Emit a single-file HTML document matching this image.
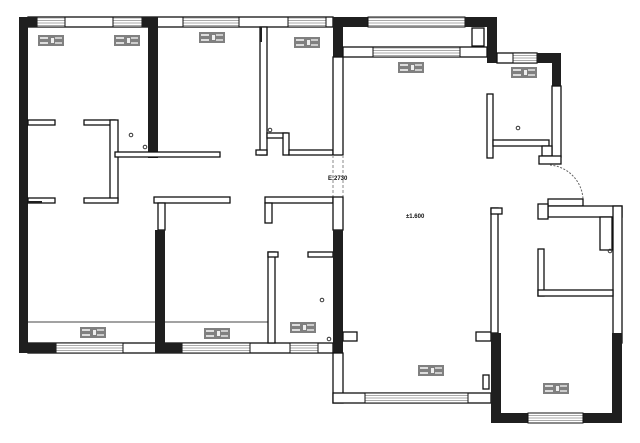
<!DOCTYPE html>
<html><head><meta charset="utf-8"><style>
html,body{margin:0;padding:0;background:#fff;width:640px;height:443px;overflow:hidden}
svg{display:block}
.w{fill:#fff;stroke:#111;stroke-width:1.3}
.b{fill:#1f1f1f}
.h{fill:url(#hp);stroke:#111;stroke-width:1}
.l{fill:#808080}
text{font-family:"Liberation Sans",sans-serif;font-weight:bold;fill:#111}
</style></head><body>
<svg width="640" height="443" viewBox="0 0 640 443" xmlns="http://www.w3.org/2000/svg">
<defs><pattern id="hp" width="4" height="2.5" patternUnits="userSpaceOnUse"><rect width="4" height="2.5" fill="#fff"/><rect y="0" width="4" height="1" fill="#aaa"/></pattern>
<g id="lab"><rect width="26" height="11" fill="#808080"/><rect x="2" y="2" width="8" height="2" fill="#ddd"/><rect x="2" y="7" width="8" height="2" fill="#ddd"/><rect x="13" y="3" width="3" height="5" fill="#eee"/><rect x="17" y="2" width="7" height="2" fill="#ccc"/><rect x="17" y="7" width="7" height="2" fill="#ccc"/></g></defs>

<rect class="w" x="28" y="17" width="305" height="10"/>
<rect class="h" x="37" y="17" width="28" height="10"/>
<rect class="h" x="113" y="17" width="29" height="10"/>
<rect class="h" x="183" y="17" width="56" height="10"/>
<rect class="h" x="288" y="17" width="38" height="10"/>
<rect class="b" x="19" y="17" width="18" height="10"/>
<rect class="b" x="19" y="17" width="9" height="336"/>
<rect class="b" x="142" y="17" width="16" height="10"/>
<rect class="b" x="148" y="17" width="10" height="141"/>

<rect class="w" x="28" y="120" width="27" height="5"/>
<rect class="w" x="84" y="120" width="31" height="5"/>
<rect class="w" x="110" y="120" width="8" height="80"/>
<rect class="w" x="115" y="152" width="105" height="5"/>
<rect class="w" x="28" y="198" width="27" height="5"/>
<rect class="w" x="84" y="198" width="34" height="5"/>
<rect class="b" x="28" y="201" width="14" height="2"/>

<rect class="w" x="260" y="27" width="7" height="128"/>
<rect class="w" x="256" y="150" width="11" height="5"/>
<rect class="w" x="267" y="133" width="20" height="5"/>
<rect class="w" x="283" y="133" width="6" height="22"/>
<rect class="w" x="289" y="150" width="44" height="5"/>
<rect class="b" x="260" y="27" width="2" height="15"/>

<rect class="b" x="333" y="17" width="35" height="10"/>
<rect class="b" x="333" y="17" width="10" height="40"/>
<rect class="w" x="333" y="57" width="10" height="98"/>
<rect class="h" x="368" y="17" width="97" height="10"/>
<rect class="b" x="465" y="17" width="32" height="10"/>
<rect class="b" x="487" y="17" width="10" height="46"/>
<rect class="w" x="343" y="47" width="144" height="10"/>
<rect class="h" x="373" y="47" width="87" height="10"/>
<rect class="w" x="472" y="28" width="12" height="18"/>

<line x1="333" y1="155" x2="333" y2="200" stroke="#888" stroke-dasharray="3,2"/>
<line x1="343" y1="155" x2="343" y2="200" stroke="#888" stroke-dasharray="3,2"/>
<text x="328" y="180" font-size="6">E:2730</text>

<rect class="w" x="497" y="53" width="40" height="10"/>
<rect class="h" x="513" y="53" width="24" height="10"/>
<rect class="b" x="537" y="53" width="24" height="10"/>
<rect class="b" x="552" y="53" width="9" height="33"/>
<rect class="w" x="552" y="86" width="9" height="71"/>
<rect class="w" x="487" y="94" width="6" height="64"/>
<rect class="w" x="493" y="140" width="56" height="6"/>
<rect class="w" x="542" y="146" width="10" height="10"/>
<rect class="w" x="539" y="156" width="22" height="8"/>
<path d="M550 165 A36 36 0 0 1 583 199" fill="none" stroke="#666" stroke-dasharray="2,1.5"/>

<rect class="w" x="154" y="197" width="76" height="6"/>
<rect class="w" x="158" y="203" width="7" height="27"/>
<rect class="w" x="265" y="197" width="68" height="6"/>
<rect class="w" x="265" y="203" width="7" height="20"/>
<rect class="w" x="333" y="197" width="10" height="33"/>

<rect class="w" x="28" y="343" width="305" height="10"/>
<rect class="h" x="56" y="343" width="67" height="10"/>
<rect class="h" x="182" y="343" width="68" height="10"/>
<rect class="h" x="290" y="343" width="28" height="10"/>
<rect class="b" x="19" y="343" width="37" height="10"/>
<rect class="b" x="155" y="343" width="27" height="10"/>
<rect class="b" x="155" y="230" width="10" height="123"/>
<line x1="28" y1="322" x2="155" y2="322" stroke="#444"/>
<line x1="165" y1="322" x2="270" y2="322" stroke="#444"/>
<rect class="w" x="268" y="252" width="7" height="91"/>
<rect class="w" x="268" y="252" width="10" height="5"/>
<rect class="w" x="308" y="252" width="25" height="5"/>
<rect class="b" x="333" y="230" width="10" height="123"/>
<rect class="w" x="343" y="332" width="14" height="9"/>

<rect class="w" x="333" y="353" width="10" height="50"/>
<rect class="w" x="333" y="393" width="158" height="10"/>
<rect class="h" x="365" y="393" width="103" height="10"/>
<rect class="w" x="476" y="332" width="15" height="9"/>
<rect class="w" x="483" y="375" width="6" height="14"/>

<rect class="w" x="548" y="199" width="35" height="7"/>
<rect class="w" x="548" y="206" width="74" height="11"/>
<rect class="w" x="538" y="204" width="10" height="15"/>
<rect class="w" x="613" y="206" width="9" height="137"/>
<rect class="w" x="491" y="208" width="7" height="125"/>
<rect class="w" x="491" y="208" width="11" height="6"/>
<rect class="w" x="538" y="249" width="6" height="47"/>
<rect class="w" x="538" y="290" width="75" height="6"/>
<rect class="w" x="600" y="217" width="12" height="33"/>
<rect class="b" x="612" y="333" width="10" height="90"/>
<rect class="b" x="491" y="333" width="10" height="90"/>
<rect class="b" x="491" y="413" width="37" height="10"/>
<rect class="b" x="583" y="413" width="39" height="10"/>
<rect class="h" x="528" y="413" width="55" height="10"/>

<g fill="none" stroke="#333"><circle cx="131" cy="135" r="1.8"/><circle cx="145" cy="147" r="1.8"/><circle cx="270" cy="130" r="1.8"/><circle cx="518" cy="128" r="1.8"/><circle cx="322" cy="300" r="1.8"/><circle cx="329" cy="339" r="1.8"/><circle cx="610" cy="251" r="1.8"/></g>

<use href="#lab" x="38" y="35"/><use href="#lab" x="114" y="35"/>
<use href="#lab" x="199" y="32"/><use href="#lab" x="294" y="37"/>
<use href="#lab" x="398" y="62"/><use href="#lab" x="511" y="67"/>
<use href="#lab" x="80" y="327"/><use href="#lab" x="204" y="328"/>
<use href="#lab" x="290" y="322"/><use href="#lab" x="418" y="365"/>
<use href="#lab" x="543" y="383"/>
<text x="406" y="218" font-size="6">±1.600</text>
</svg>
</body></html>
